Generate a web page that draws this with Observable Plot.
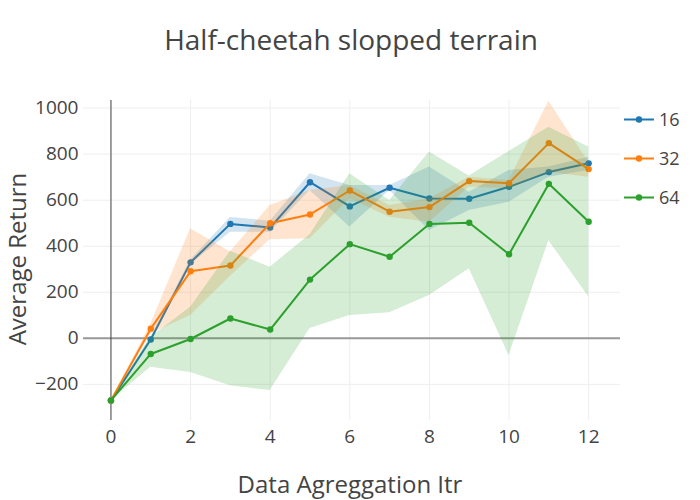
<!DOCTYPE html>
<html>
<head>
<meta charset="utf-8">
<script src="https://cdn.jsdelivr.net/npm/d3@7"></script>
<script src="https://cdn.jsdelivr.net/npm/@observablehq/plot@0.6"></script>
<style>
  html, body { margin: 0; padding: 0; background: #fff; }
  #wrap { position: relative; width: 700px; height: 500px; font-family: "Open Sans", sans-serif; }
  #wrap > svg.overlay { position: absolute; left: 0; top: 0; pointer-events: none; }
</style>
</head>
<body>
<div id="wrap"></div>
<script>
// ---- data ----
const iters = [0, 1, 2, 3, 4, 5, 6, 7, 8, 9, 10, 11, 12];

const names = ["16", "32", "64"];
const colors = ["#1f77b4", "#ff7f0e", "#2ca02c"];

const mean16 = [-270, -5, 330, 497, 481, 678, 573, 654, 607, 606, 658, 722, 760];
const lo16   = [-270, -15, 320, 461, 461, 642, 483, 642, 468, 555, 591, 700, 729];
const hi16   = [-270, 5, 340, 525, 509, 715, 664, 664, 744, 635, 729, 744, 787];

const mean32 = [-270, 42, 291, 316, 500, 538, 642, 550, 570, 683, 674, 848, 735];
const lo32   = [-270, 20, 99, 270, 428, 432, 606, 526, 504, 657, 649, 720, 700];
const hi32   = [-270, 61, 476, 375, 577, 642, 664, 577, 606, 700, 686, 1030, 765];

const mean64 = [-270, -68, -3, 86, 38, 255, 409, 354, 497, 502, 365, 671, 506];
const lo64   = [-270, -126, -148, -206, -227, 43, 99, 111, 186, 302, -75, 424, 181];
const hi64   = [-270, 5, 135, 378, 309, 450, 715, 599, 809, 705, 812, 917, 831];

const xTicks = [0, 2, 4, 6, 8, 10, 12];
const yTicks = [-200, 0, 200, 400, 600, 800, 1000];

const titleText = "Half-cheetah slopped terrain";
const xLabel = "Data Agreggation Itr";
const yLabel = "Average Return";

// ---- build tables ----
const seriesArrays = [[mean16, lo16, hi16], [mean32, lo32, hi32], [mean64, lo64, hi64]];
const series = names.map((name, i) => ({
  name,
  color: colors[i],
  rows: iters.map((x, j) => ({x, mean: seriesArrays[i][0][j], lo: seriesArrays[i][1][j], hi: seriesArrays[i][2][j]}))
}));

const fmt = d3.format("d");

const marks = [
  Plot.gridX(xTicks, {stroke: "#eee", strokeOpacity: 1, strokeWidth: 1}),
  Plot.gridY(yTicks, {stroke: "#eee", strokeOpacity: 1, strokeWidth: 1}),
  Plot.ruleY([0], {stroke: "#999", strokeWidth: 2}),
  Plot.ruleX([0], {stroke: "#444", strokeWidth: 1}),
  Plot.axisX(xTicks, {tickSize: 0, tickPadding: 9, label: null, fontSize: 19, tickFormat: fmt}),
  Plot.axisY(yTicks, {tickSize: 0, tickPadding: 5, label: null, fontSize: 19, tickFormat: fmt})
];
for (const s of series) {
  marks.push(Plot.areaY(s.rows, {x: "x", y1: "lo", y2: "hi", fill: s.color, fillOpacity: 0.2, curve: "linear"}));
  marks.push(Plot.line(s.rows, {x: "x", y: "mean", stroke: s.color, strokeWidth: 2, curve: "linear"}));
  marks.push(Plot.dot(s.rows, {x: "x", y: "mean", fill: s.color, r: 3.2, stroke: "none"}));
}

const chart = Plot.plot({
  width: 700,
  height: 500,
  marginLeft: 83,
  marginRight: 80,
  marginTop: 100,
  marginBottom: 80,
  x: {domain: [-0.69, 12.8]},
  y: {domain: [-357, 1033]},
  style: {fontFamily: "Open Sans, sans-serif", fontSize: "19px", color: "#444", background: "#fff"},
  marks
});

const wrap = document.getElementById("wrap");
wrap.appendChild(chart);

// ---- overlay: title, axis titles, legend ----
const ov = d3.select(wrap).append("svg")
  .attr("class", "overlay")
  .attr("width", 700).attr("height", 500)
  .style("font-family", "Open Sans, sans-serif");

ov.append("text")
  .attr("x", 351).attr("y", 50)
  .attr("text-anchor", "middle")
  .attr("font-size", 28)
  .attr("fill", "#444")
  .text(titleText);

ov.append("text")
  .attr("x", 350).attr("y", 493)
  .attr("text-anchor", "middle")
  .attr("font-size", 24)
  .attr("fill", "#444")
  .text(xLabel);

ov.append("text")
  .attr("transform", "translate(26,259) rotate(-90)")
  .attr("text-anchor", "middle")
  .attr("font-size", 24)
  .attr("fill", "#444")
  .text(yLabel);

const leg = ov.append("g");
series.forEach((s, i) => {
  const y = 119.5 + i * 39;
  const g = leg.append("g").attr("transform", `translate(0,${y})`);
  g.append("line").attr("x1", 624).attr("x2", 654).attr("y1", 0).attr("y2", 0)
    .attr("stroke", s.color).attr("stroke-width", 2);
  g.append("circle").attr("cx", 639).attr("cy", 0).attr("r", 3.2).attr("fill", s.color);
  g.append("text").attr("x", 659).attr("y", 0).attr("dy", "0.36em")
    .attr("font-size", 18).attr("fill", "#444").text(s.name);
});
</script>
</body>
</html>
